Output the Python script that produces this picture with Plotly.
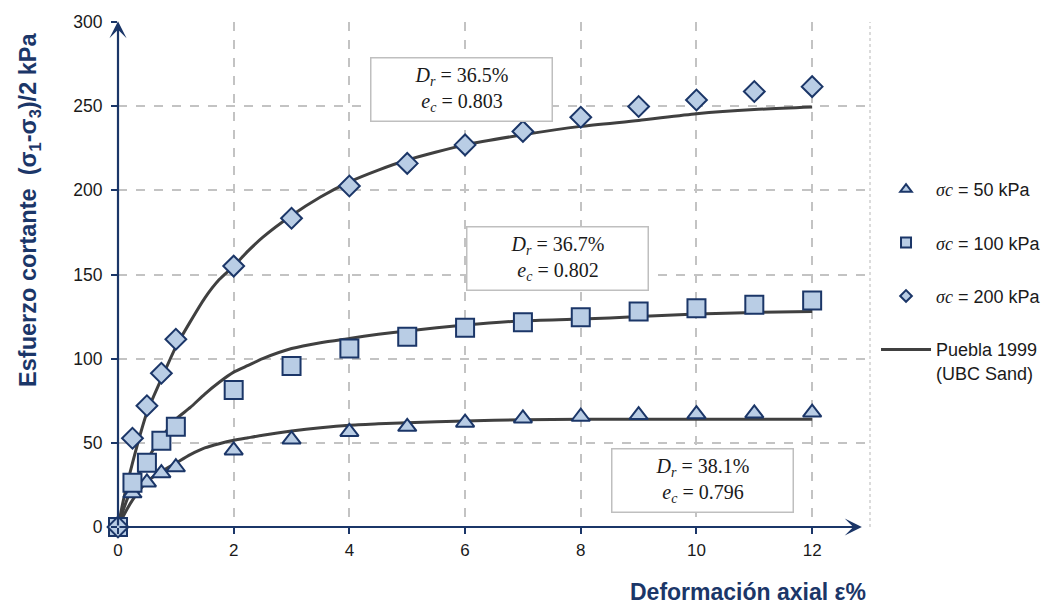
import plotly.graph_objects as go

# ---------------- data ----------------
x_exp = [0, 0.25, 0.5, 0.75, 1, 2, 3, 4, 5, 6, 7, 8, 9, 10, 11, 12]
y_50 = [0, 20, 26.5, 32, 35.5, 45.5, 52, 56.5, 59.5, 62, 64.5, 65.5, 66.5, 67, 67.5, 68]
y_100 = [0, 26.3, 38.2, 51.3, 59.6, 81.4, 95.7, 106, 113, 118.4, 121.6, 124.6, 128, 130, 132, 134.5]
y_200 = [0, 52.7, 72, 91.3, 111.5, 155, 183.4, 202.6, 216, 227, 235, 243.4, 249.8, 253.7, 258.7, 261.6]

x_model = [0, 0.1, 0.25, 0.5, 0.75, 1, 1.25, 1.5, 1.75, 2, 2.25, 2.5, 3, 3.5, 4, 4.5, 5, 6, 7, 8, 9, 10, 11, 12]
m_50 = [0, 7, 16, 27, 33, 38, 43, 47, 49.5, 51.5, 53, 54.5, 57, 59, 60.5, 61.3, 62, 63, 63.7, 64, 64, 64, 64, 64]
m_100 = [0, 11, 24, 40, 53, 64, 71, 79, 86, 92, 96, 100, 106, 109.5, 112, 114.5, 116.5, 120, 122.5, 123.5, 125, 126.5, 127.5, 128]
m_200 = [0, 17, 38, 68, 88, 107, 122, 136, 147, 155, 164, 172, 185, 196, 205, 212, 218, 227, 233, 238, 241.5, 245.5, 248, 249.5]

legend_values = ["50 kPa", "100 kPa", "200 kPa"]
model_label = "Puebla 1999<br>(UBC Sand)"

box_texts = [("36.5%", "0.803"), ("36.7%", "0.802"), ("38.1%", "0.796")]
box_pos = [(5.93, 260.2), (7.6, 159.5), (10.1, 27.9)]

# ---------------- style ----------------
NAVY = "#1b3668"
FILL = "#b9cde5"
CURVE = "#404040"
GRID = "#c3c3c3"
SANS = "Liberation Sans, Arial, sans-serif"
SERIF = "Liberation Serif, DejaVu Serif, serif"

fig = go.Figure()

# model curves
for ym in [m_50, m_100, m_200]:
    fig.add_trace(go.Scatter(x=x_model, y=ym, mode="lines", showlegend=False,
                             line=dict(color=CURVE, width=3, shape="spline", smoothing=0.6),
                             cliponaxis=False, hoverinfo="skip"))

symbols = ["triangle-up", "square", "diamond"]
sizes = [16, 18, 16]
leg_sizes = [10, 10, 9]
for ys, sym, sz in zip([y_50, y_100, y_200], symbols, sizes):
    fig.add_trace(go.Scatter(x=x_exp, y=ys, mode="markers", showlegend=False, cliponaxis=False,
                             marker=dict(symbol=sym, size=sz, color=FILL,
                                         line=dict(color=NAVY, width=2))))

# legend-only entries
for i, (val, sym, sz) in enumerate(zip(legend_values, symbols, leg_sizes)):
    txt = f"<span style='font-family:{SERIF}'><i>σc</i></span> = {val}"
    fig.add_trace(go.Scatter(x=[None], y=[None], mode="markers", name=txt, legendgroup=f"g{i}",
                             marker=dict(symbol=sym, size=sz, color=FILL, line=dict(color=NAVY, width=2))))
fig.add_trace(go.Scatter(x=[None], y=[None], mode="lines", name=model_label, legendgroup="g3",
                         line=dict(color=CURVE, width=3)))

# axis arrows
fig.add_annotation(x=12.86, y=0, ax=0, ay=0, xref="x", yref="y", axref="x", ayref="y",
                   text="", showarrow=True, arrowhead=3, arrowsize=1.3, arrowwidth=2.2,
                   arrowcolor=NAVY, standoff=0, startstandoff=0)
fig.add_annotation(x=0, y=300.5, ax=0, ay=0, xref="x", yref="y", axref="x", ayref="y",
                   text="", showarrow=True, arrowhead=3, arrowsize=1.3, arrowwidth=2.2,
                   arrowcolor=NAVY, standoff=0, startstandoff=0)

# text boxes
for (dr, ec), (bx, by) in zip(box_texts, box_pos):
    fig.add_annotation(x=bx, y=by, xref="x", yref="y", showarrow=False,
                       text=f"<i>D</i><sub><i>r</i></sub> = {dr}<br><i>e</i><sub><i>c</i></sub> = {ec}",
                       font=dict(family=SERIF, size=20, color="#1a1a1a"),
                       bgcolor="white", bordercolor="#bfbfbf", borderwidth=1.5,
                       width=172, height=54, borderpad=4, align="center")

# axis titles
fig.add_annotation(x=0.838, y=-0.128, xref="paper", yref="paper", showarrow=False,
                   xanchor="center", yanchor="middle",
                   text="<b>Deformación axial ε%</b>",
                   font=dict(family=SANS, size=23, color=NAVY))
fig.add_annotation(x=-0.117, y=0.628, xref="paper", yref="paper", showarrow=False, textangle=-90,
                   xanchor="center", yanchor="middle",
                   text="<b>Esfuerzo cortante  (σ<sub>1</sub>-σ<sub>3</sub>)/2 kPa</b>",
                   font=dict(family=SANS, size=23.5, color=NAVY))

# right dotted border
fig.add_shape(type="line", xref="paper", yref="paper", x0=1, x1=1, y0=0, y1=1,
              line=dict(color=GRID, width=1.2, dash="dot"), layer="below")

fig.update_xaxes(range=[0, 13], dtick=2, tick0=0, showgrid=True, gridcolor=GRID, griddash="dash",
                 gridwidth=1.5, zeroline=False, showline=False, ticks="outside", ticklen=6,
                 tickwidth=2, tickcolor=NAVY, tickfont=dict(family=SANS, size=17, color="#1a1a1a"),
                 ticklabelstandoff=2)
fig.update_yaxes(range=[0, 300], dtick=50, tick0=0, showgrid=True, gridcolor=GRID, griddash="dash",
                 gridwidth=1.5, zeroline=False, showline=False, ticks="outside", ticklen=6,
                 tickwidth=2, tickcolor=NAVY, tickfont=dict(family=SANS, size=17.5, color="#1a1a1a"),
                 ticklabelstandoff=5)

fig.update_layout(
    width=1048, height=605,
    margin=dict(l=118, r=178, t=22, b=78, autoexpand=False),
    plot_bgcolor="white", paper_bgcolor="white",
    legend=dict(x=1.008, y=0.705, xanchor="left", yanchor="top", traceorder="grouped",
                tracegroupgap=27, itemwidth=50, valign="top",
                font=dict(family=SANS, size=18, color="#1a1a1a"), bgcolor="rgba(0,0,0,0)"),
)

fig.write_html("out.html")
